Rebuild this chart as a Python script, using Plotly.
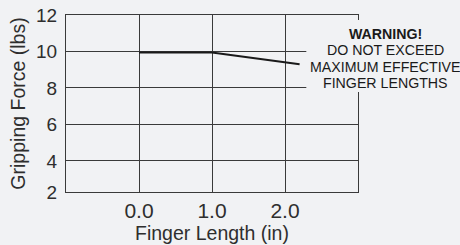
import plotly.graph_objects as go

finger_length = [0.0, 1.0, 2.2]
gripping_force = [9.95, 9.95, 9.3]
x_ticks = [0.0, 1.0, 2.0]
x_tick_labels = ["0.0", "1.0", "2.0"]
y_ticks = [2, 4, 6, 8, 10, 12]
y_tick_labels = ["2", "4", "6", "8", "10", "12"]
warning_lines = ["<b>WARNING!</b>", "DO NOT EXCEED", "MAXIMUM EFFECTIVE", "FINGER LENGTHS"]

BG = "#f1f2f4"
GRID = "#3a3a3a"
TXT = "#2e2e2e"
FONT = "Liberation Sans, Arial, sans-serif"
Y_MIN = 2.3

fig = go.Figure()
fig.add_trace(go.Scatter(x=finger_length, y=gripping_force, mode="lines",
                         line=dict(color="#1a1a1a", width=2), showlegend=False,
                         hoverinfo="skip"))

fig.update_layout(
    width=460, height=245, autosize=False,
    margin=dict(l=66, r=102, t=15, b=53, pad=0),
    paper_bgcolor=BG, plot_bgcolor=BG,
    font=dict(family=FONT, color=TXT),
    xaxis=dict(range=[-1, 3], tickvals=x_ticks, ticktext=x_tick_labels,
               showgrid=True, gridcolor=GRID, gridwidth=1, zeroline=False,
               showline=True, linecolor=GRID, linewidth=1, mirror=True,
               ticks="", automargin=False, ticklabelstandoff=0,
               tickfont=dict(size=21, family=FONT, color=TXT),
               title=dict(text="Finger Length (in)", standoff=5,
                          font=dict(size=19.5, family=FONT, color=TXT))),
    yaxis=dict(range=[Y_MIN, 12], tickvals=[max(v, Y_MIN) for v in y_ticks], ticktext=y_tick_labels,
               showgrid=True, gridcolor=GRID, gridwidth=1, zeroline=False,
               showline=True, linecolor=GRID, linewidth=1, mirror=True,
               ticks="", automargin=False, ticklabelstandoff=4,
               tickfont=dict(size=19, family=FONT, color=TXT),
               title=dict(text="Gripping Force (lbs)", standoff=5,
                          font=dict(size=19.5, family=FONT, color=TXT))),
)

# background patch behind the warning text, hiding the grid there
fig.add_shape(type="rect", xref="paper", yref="paper", x0=0.823, x1=1.36, y0=0.565, y1=0.972,
              fillcolor=BG, line=dict(width=0), layer="above")

for i, line in enumerate(warning_lines):
    fig.add_annotation(
        xref="paper", yref="paper", x=1.093, y=0.893, yshift=-16.3 * i,
        xanchor="center", yanchor="middle",
        text=line, showarrow=False,
        font=dict(size=14.2, family=FONT, color="#1a1a1a"),
    )

fig.write_html("out.html", config={"responsive": False, "displayModeBar": False},
               post_script="document.body.style.margin='0';")
